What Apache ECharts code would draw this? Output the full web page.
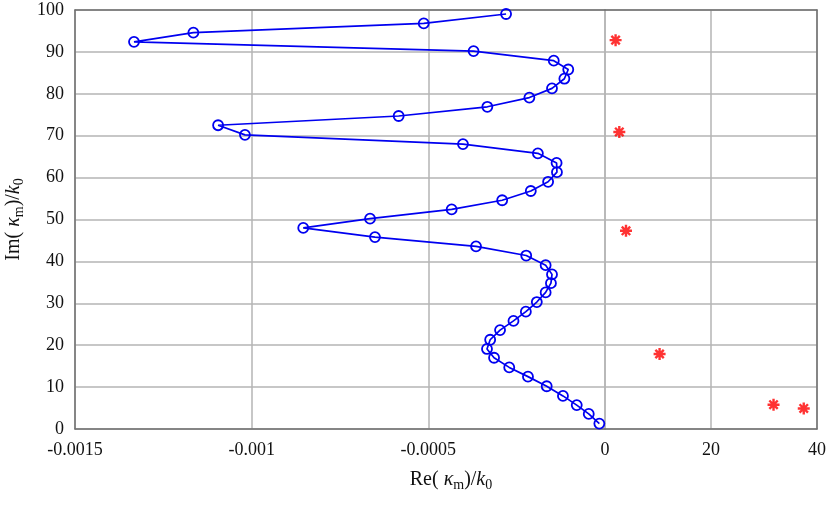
<!DOCTYPE html>
<html>
<head>
<meta charset="utf-8">
<script src="https://cdn.jsdelivr.net/npm/echarts@6/dist/echarts.min.js"></script>
<style>html,body{margin:0;padding:0;background:#fff;}#c{width:827px;height:506px;}</style>
</head>
<body>
<div id="c"></div>
<script>
// Blue curve: Re(kappa_m)/k0 (left, small scale) vs Im(kappa_m)/k0
var reX = [-0.00028, -0.000513, -0.001165, -0.001333, -0.000372, -0.000145, -0.000104, -0.000115, -0.00015, -0.000214,
           -0.000333, -0.000584, -0.001095, -0.001019, -0.000402, -0.00019, -0.000137, -0.000136, -0.000161, -0.00021,
           -0.000291, -0.000434, -0.000665, -0.000854, -0.000651, -0.000365, -0.000223, -0.000168, -0.00015, -0.000153,
           -0.000168, -0.000193, -0.000224, -0.000259, -0.000297, -0.000325, -0.000334, -0.000314, -0.000271, -0.000218,
           -0.000165, -0.000119, -0.00008, -0.000046, -0.000016];
var imY = [99.05, 96.8, 94.6, 92.4, 90.2, 87.9, 85.8, 83.6, 81.3, 79.1,
           76.9, 74.7, 72.5, 70.2, 68.0, 65.8, 63.5, 61.3, 59.0, 56.8,
           54.6, 52.4, 50.2, 48.0, 45.8, 43.6, 41.4, 39.1, 36.9, 34.8,
           32.6, 30.3, 28.0, 25.8, 23.6, 21.3, 19.1, 17.0, 14.7, 12.5,
           10.2, 7.9, 5.7, 3.6, 1.3];
// Red stars: Re (right, large scale) vs Im
var starRe = [2.0, 2.7, 3.96, 10.3, 31.8, 37.5];
var starIm = [92.8, 70.9, 47.3, 17.9, 5.8, 4.9];

var FONT = 'Liberation Serif';
var frameColor = '#707070';
var gridColor = '#b4b4b4';
var blue = '#0000f0';

var curve = reX.map(function (x, i) { return [x, imY[i]]; });
var stars = starRe.map(function (x, i) { return [x, starIm[i]]; });

var rich = {
  n: { fontFamily: FONT, fontSize: 20, fontWeight: 'normal', color: '#111', lineHeight: 24, verticalAlign: 'middle' },
  i: { fontFamily: FONT, fontSize: 20, fontWeight: 'normal', fontStyle: 'italic', color: '#111', lineHeight: 24, verticalAlign: 'middle' },
  s: { fontFamily: FONT, fontSize: 14, fontWeight: 'normal', color: '#111', lineHeight: 14, padding: [11, 0, 0, 0], verticalAlign: 'middle' }
};

function fmt(v) { return String(parseFloat(Number(v).toPrecision(6))); }

var chart = echarts.init(document.getElementById('c'), null, { renderer: 'canvas' });
var frameAxis = { show: true, onZero: false, lineStyle: { color: frameColor, width: 1.5 } };
var labelStyle = { fontFamily: FONT, fontSize: 18, color: '#111' };
var splitStyle = { show: true, lineStyle: { color: gridColor, width: 1.5 } };

chart.setOption({
  animation: false,
  backgroundColor: '#fff',
  title: {
    text: '{n|Re( }{i|κ}{s|m}{n|)/}{i|k}{s|0}',
    left: 446, top: 463, textAlign: 'center',
    textStyle: { fontWeight: 'normal', rich: rich }
  },
  grid: [
    { left: 75, top: 10, width: 530, height: 419, containLabel: false, outerBoundsMode: 'none' },
    { left: 605, top: 10, width: 212, height: 419, containLabel: false, outerBoundsMode: 'none' }
  ],
  xAxis: [
    { type: 'value', gridIndex: 0, position: 'bottom', min: -0.0015, max: 0, interval: 0.0005,
      axisLine: frameAxis, axisTick: { show: false },
      axisLabel: Object.assign({ margin: 12, formatter: fmt }, labelStyle),
      splitLine: splitStyle },
    { type: 'value', gridIndex: 1, position: 'bottom', min: 0, max: 40, interval: 20,
      axisLine: frameAxis, axisTick: { show: false },
      axisLabel: Object.assign({ margin: 12, showMinLabel: false, formatter: fmt }, labelStyle),
      splitLine: splitStyle },
    { type: 'value', gridIndex: 0, position: 'top', min: -0.0015, max: 0, interval: 0.0005,
      axisLine: frameAxis, axisTick: { show: false }, axisLabel: { show: false }, splitLine: { show: false } },
    { type: 'value', gridIndex: 1, position: 'top', min: 0, max: 40, interval: 20,
      axisLine: frameAxis, axisTick: { show: false }, axisLabel: { show: false }, splitLine: { show: false } }
  ],
  yAxis: [
    { type: 'value', gridIndex: 0, position: 'left', min: 0, max: 100, interval: 10,
      axisLine: frameAxis, axisTick: { show: false },
      axisLabel: Object.assign({ margin: 11 }, labelStyle),
      splitLine: splitStyle,
      name: '{n|Im( }{i|κ}{s|m}{n|)/}{i|k}{s|0}',
      nameLocation: 'middle', nameGap: 46, nameRotate: 90,
      nameTextStyle: { fontWeight: 'normal', rich: rich } },
    { type: 'value', gridIndex: 1, position: 'right', min: 0, max: 100, interval: 10,
      axisLine: frameAxis, axisTick: { show: false }, axisLabel: { show: false },
      splitLine: splitStyle }
  ],
  series: [
    { type: 'line', xAxisIndex: 0, yAxisIndex: 0, data: curve,
      symbol: 'circle', symbolSize: 10, showAllSymbol: true,
      itemStyle: { color: 'none', borderColor: blue, borderWidth: 1.8 },
      lineStyle: { color: blue, width: 1.7 }, z: 5 },
    { type: 'scatter', xAxisIndex: 1, yAxisIndex: 1, data: stars,
      symbol: 'path://M5,0L5,10M0,5L10,5M1.5,1.5L8.5,8.5M1.5,8.5L8.5,1.5',
      symbolSize: 12,
      itemStyle: { color: 'none', borderColor: '#ff0000', borderWidth: 2.4 }, z: 5 }
  ]
});
</script>
</body>
</html>
